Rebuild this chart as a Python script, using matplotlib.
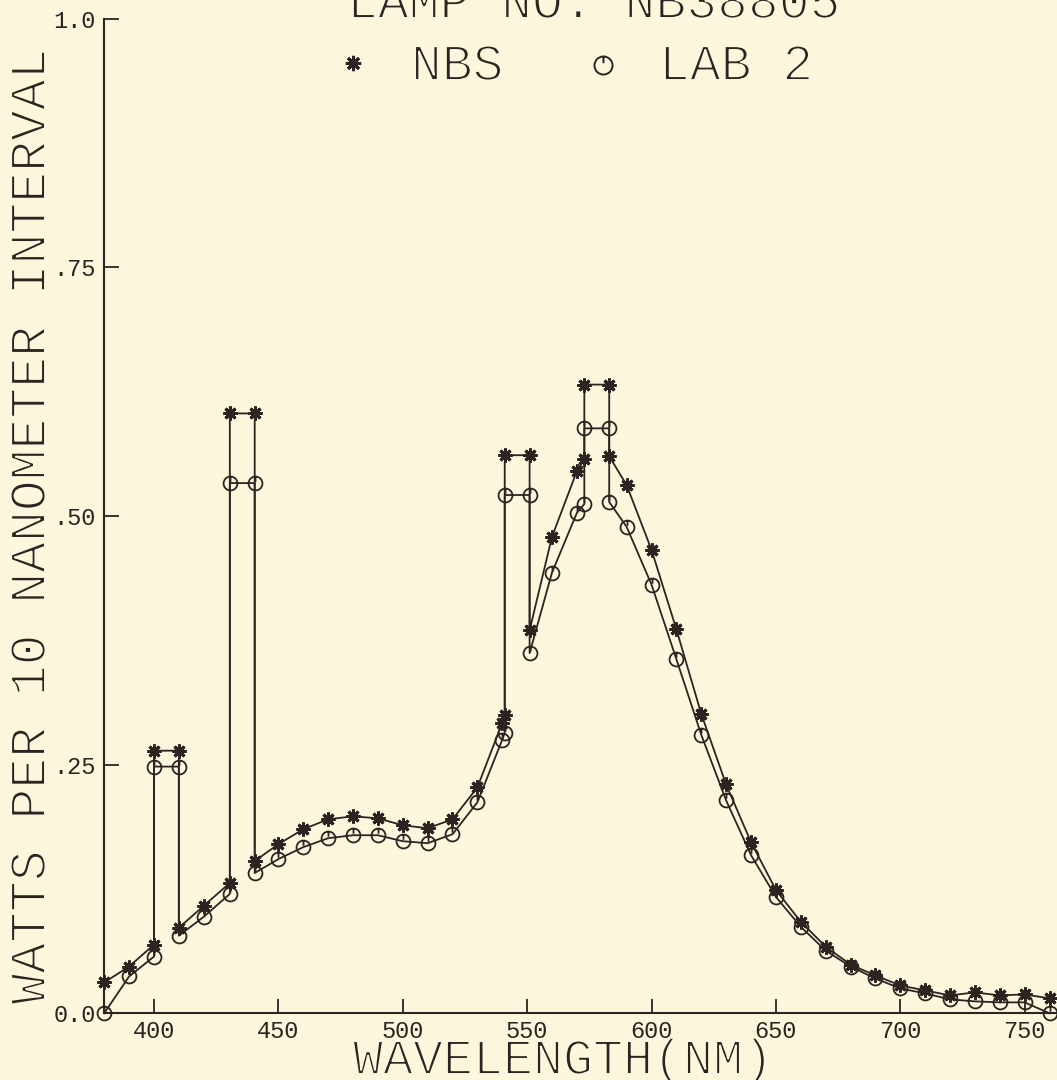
import matplotlib
matplotlib.use("Agg")
import matplotlib.pyplot as plt
import matplotlib.patheffects as pe
from matplotlib.path import Path
from matplotlib.lines import Line2D

# ---- data -------------------------------------------------------------
# Wavelength sequence (nm). Repeated wavelengths trace the emission-line
# boxes: continuum -> line level -> line level -> continuum.
wavelength = [380, 390, 400, 400, 410, 410, 420, 430.5, 430.5, 440.5, 440.5,
              450, 460, 470, 480, 490, 500, 510, 520, 530, 540, 541, 541,
              551, 551, 560, 570, 573, 573, 583, 583, 590, 600, 610, 620,
              630, 640, 650, 660, 670, 680, 690, 700, 710, 720, 730, 740,
              750, 760]

nbs = [0.031, 0.047, 0.069, 0.264, 0.264, 0.086, 0.108, 0.131, 0.603, 0.603,
       0.153, 0.170, 0.185, 0.195, 0.198, 0.196, 0.189, 0.186, 0.195, 0.227,
       0.292, 0.300, 0.561, 0.561, 0.385, 0.479, 0.545, 0.557, 0.632, 0.632,
       0.560, 0.531, 0.466, 0.386, 0.301, 0.230, 0.172, 0.124, 0.092, 0.067,
       0.049, 0.038, 0.028, 0.023, 0.018, 0.021, 0.018, 0.019, 0.015]

lab2 = [0.000, 0.037, 0.057, 0.248, 0.248, 0.078, 0.097, 0.120, 0.533, 0.533,
        0.141, 0.155, 0.167, 0.176, 0.179, 0.179, 0.173, 0.171, 0.180, 0.212,
        0.275, 0.282, 0.521, 0.521, 0.362, 0.443, 0.503, 0.512, 0.588, 0.588,
        0.514, 0.489, 0.431, 0.356, 0.280, 0.214, 0.159, 0.117, 0.087, 0.063,
        0.047, 0.035, 0.025, 0.020, 0.014, 0.012, 0.011, 0.011, 0.000]

x_ticks = [400, 450, 500, 550, 600, 650, 700, 750]
x_tick_labels = ["400", "450", "500", "550", "600", "650", "700", "750"]
y_ticks = [0.0, 0.25, 0.50, 0.75, 1.0]
y_tick_labels = ["0.0", ".25", ".50", ".75", "1.0"]

title_text = "LAMP NO. NB38805"
series_names = ["NBS", "LAB 2"]
x_title = "WAVELENGTH(NM)"
y_title = "WATTS PER 10 NANOMETER INTERVAL"

# ---- style ------------------------------------------------------------
BG = "#fbf6dc"
INK = "#2b2420"
plt.rcParams["font.family"] = ["Liberation Mono", "DejaVu Sans Mono"]

# pen-plotter look: erode the glyph edges with a background-coloured stroke
thin_big = [pe.Normal(), pe.Stroke(linewidth=1.4, foreground=BG)]

W, H = 1057, 1080
fig = plt.figure(figsize=(W / 100, H / 100), dpi=100)
fig.patch.set_facecolor(BG)

# plot frame in pixel units
left_px, right_px, top_px, bottom_px = 104.2, 1057.0, 18.5, 1013.3
ax = fig.add_axes([left_px / W, (H - bottom_px) / H,
                   (right_px - left_px) / W, (bottom_px - top_px) / H])
ax.patch.set_alpha(0)
ax.set_xlim(380, 763)
ax.set_ylim(0, 1.0)

for side in ("top", "right"):
    ax.spines[side].set_visible(False)
for side in ("left", "bottom"):
    ax.spines[side].set_color(INK)
    ax.spines[side].set_linewidth(1.5)

ax.set_xticks(x_ticks)
ax.set_xticklabels(x_tick_labels)
ax.set_yticks(y_ticks)
ax.set_yticklabels(y_tick_labels)
ax.tick_params(axis="x", direction="in", length=10, width=1.3, color=INK,
               labelcolor=INK, labelsize=17, pad=4.5)
ax.tick_params(axis="y", direction="in", length=11, width=1.3, color=INK,
               labelcolor=INK, labelsize=17, pad=6)

# plotter-style circle symbol with a short stroke from the top
circ = Path.unit_circle()
stroke = Path([(0, 1.0), (0, 0.25)], [Path.MOVETO, Path.LINETO])
circle_mark = Path.make_compound_path(circ, stroke)
star_mark = (8, 2, 0)

ax.plot(wavelength, nbs, color=INK, lw=1.3, marker=star_mark, ms=10,
        mew=2.1, mec=INK, clip_on=False, zorder=3)
ax.plot(wavelength, lab2, color=INK, lw=1.3, marker=circle_mark, ms=10,
        mew=1.3, mec=INK, mfc="none", clip_on=False, zorder=3)

# axis titles
fig.text(563 / W, (H - 1074) / H, x_title, ha="center", va="baseline",
         fontsize=36, color=INK, path_effects=thin_big)
fig.text(45 / W, (H - 526) / H, y_title, ha="center", va="baseline",
         rotation=90, rotation_mode="anchor", fontsize=37, color=INK,
         path_effects=thin_big)

# heading and key
fig.text(347 / W, (H - 18) / H, title_text, ha="left", va="baseline",
         fontsize=37, color=INK, path_effects=thin_big)
fig.text(411 / W, (H - 80) / H, series_names[0], ha="left", va="baseline",
         fontsize=37, color=INK, path_effects=thin_big)
fig.text(659 / W, (H - 80) / H, series_names[1], ha="left", va="baseline",
         fontsize=37, color=INK, path_effects=thin_big)
fig.add_artist(Line2D([353 / W], [(H - 63) / H], transform=fig.transFigure,
                      marker=star_mark, ms=11, mew=2.2, color=INK, ls="none"))
fig.add_artist(Line2D([603 / W], [(H - 65) / H], transform=fig.transFigure,
                      marker=circle_mark, ms=13, mew=1.4, mec=INK, mfc="none",
                      ls="none"))

fig.savefig("out.png", dpi=100, facecolor=BG)
